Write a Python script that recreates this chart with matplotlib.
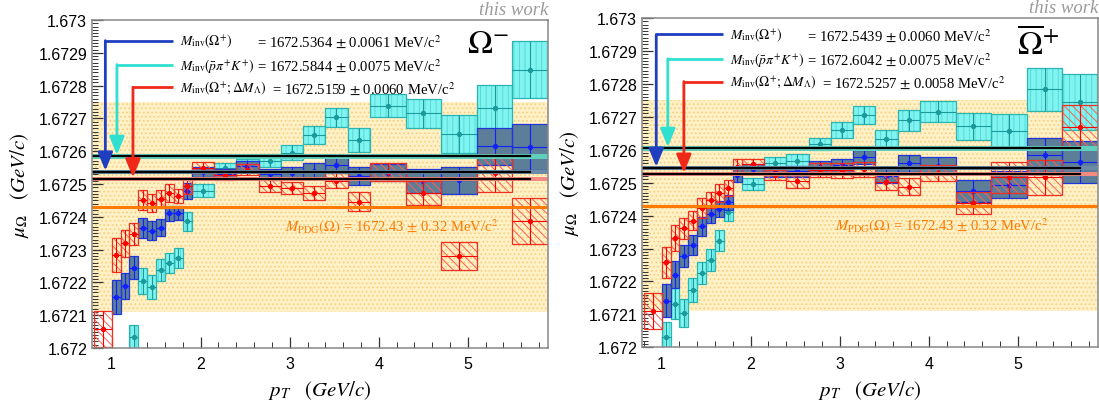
import numpy as np
import matplotlib
matplotlib.use('Agg')
import matplotlib.pyplot as plt
from matplotlib.patches import Rectangle
from matplotlib.ticker import MultipleLocator, FuncFormatter

plt.rcParams['font.family'] = ['Liberation Serif', 'DejaVu Serif']
plt.rcParams['mathtext.fontset'] = 'stix'
plt.rcParams['hatch.linewidth'] = 0.7

nan = np.nan

# pT bin edges (GeV/c)
pt_edges = [0.8, 1.0, 1.1, 1.2, 1.3, 1.4, 1.5, 1.6, 1.7, 1.8, 1.9, 2.15, 2.4,
            2.65, 2.9, 3.15, 3.4, 3.65, 3.9, 4.3, 4.7, 5.1, 5.5, 5.9]

# Omega- panel, masses in MeV/c^2
om_red = [1672.058, 1672.284, 1672.319, 1672.347, 1672.452, 1672.442, 1672.454, 1672.472,
          1672.464, 1672.493, 1672.550, 1672.528, 1672.544, 1672.493, 1672.488, 1672.472,
          1672.510, 1672.446, 1672.536, 1672.472, 1672.280, 1672.534, 1672.388]
om_red_err = [0.054, 0.052, 0.041, 0.034, 0.031, 0.028, 0.028, 0.027, 0.022, 0.023, 0.016,
              0.015, 0.018, 0.018, 0.019, 0.022, 0.023, 0.029, 0.027, 0.036, 0.043, 0.057, 0.070]
om_blue = [nan, 1672.155, 1672.190, 1672.244, 1672.365, 1672.358, 1672.367, 1672.411,
           1672.411, 1672.478, 1672.537, 1672.530, 1672.555, 1672.530, 1672.534, 1672.541,
           1672.559, 1672.525, 1672.535, 1672.510, 1672.511, 1672.615, 1672.613]
om_blue_err = [nan, 0.051, 0.040, 0.035, 0.030, 0.028, 0.026, 0.023, 0.022, 0.024, 0.015,
               0.015, 0.016, 0.016, 0.017, 0.024, 0.024, 0.028, 0.027, 0.036, 0.042, 0.057, 0.071]
om_cyan = [nan, nan, nan, 1672.033, 1672.205, 1672.187, 1672.238, 1672.259, 1672.274,
           1672.386, 1672.480, 1672.549, 1672.560, 1672.571, 1672.595, 1672.649, 1672.703,
           1672.635, 1672.739, 1672.715, 1672.652, 1672.731, 1672.849]
om_cyan_err = [nan, nan, nan, 0.038, 0.039, 0.037, 0.033, 0.030, 0.031, 0.030, 0.019, 0.015,
               0.015, 0.020, 0.023, 0.028, 0.030, 0.037, 0.034, 0.044, 0.057, 0.070, 0.088]
om_means = [1672.5364, 1672.5844, 1672.5159]
om_mean_errs = [0.0061, 0.0075, 0.0060]

# anti-Omega+ panel
ob_red = [1672.111, 1672.258, 1672.331, 1672.362, 1672.385, 1672.423, 1672.448, 1672.468,
          1672.484, 1672.549, 1672.557, 1672.522, 1672.504, 1672.539, 1672.537, 1672.540,
          1672.502, 1672.488, 1672.530, 1672.439, 1672.517, 1672.516, 1672.669]
ob_red_err = [0.055, 0.047, 0.039, 0.032, 0.030, 0.029, 0.025, 0.027, 0.025, 0.024, 0.016,
              0.015, 0.020, 0.022, 0.022, 0.023, 0.025, 0.027, 0.025, 0.033, 0.047, 0.052, 0.066]
ob_blue = [nan, 1672.142, 1672.221, 1672.277, 1672.310, 1672.367, 1672.404, 1672.420,
           1672.440, 1672.522, 1672.541, 1672.531, 1672.535, 1672.547, 1672.553, 1672.578,
           1672.520, 1672.559, 1672.552, 1672.474, 1672.494, 1672.584, 1672.563]
ob_blue_err = [nan, 0.049, 0.040, 0.034, 0.030, 0.029, 0.026, 0.025, 0.024, 0.020, 0.016,
               0.015, 0.017, 0.018, 0.020, 0.022, 0.022, 0.026, 0.025, 0.033, 0.042, 0.052, 0.063]
ob_cyan = [nan, 1672.030, 1672.132, 1672.104, 1672.174, 1672.225, 1672.265, 1672.324,
           1672.412, nan, 1672.497, 1672.561, 1672.567, 1672.618, 1672.661, 1672.705,
           1672.633, 1672.689, 1672.716, 1672.671, 1672.658, 1672.783, 1672.745]
ob_cyan_err = [nan, 0.046, 0.047, 0.043, 0.037, 0.033, 0.033, 0.031, 0.028, nan, 0.018,
               0.018, 0.020, 0.019, 0.024, 0.027, 0.028, 0.033, 0.032, 0.041, 0.050, 0.066, 0.084]
ob_means = [1672.5439, 1672.6042, 1672.5257]
ob_mean_errs = [0.0060, 0.0075, 0.0058]

pdg_mass = 1672.43
pdg_err = 0.32

labels = [r'$M_{\mathrm{inv}}(\Omega^{+})$',
          r'$M_{\mathrm{inv}}(\bar{p}\pi^{+}K^{+})$',
          r'$M_{\mathrm{inv}}(\Omega^{+};\Delta M_{\Lambda})$']

# legend rows (MeV) and arrow corner positions (pT)
om_row_y = [1672.937, 1672.864, 1672.795]
ob_row_y = [1672.950, 1672.876, 1672.807]
om_arrow_x = [0.93, 1.06, 1.24]
ob_arrow_x = [0.94, 1.07, 1.25]

RED, BLUE, CYAN = '#f02818', '#1f3fc0', '#2fe0d0'
ORANGE = '#ff7a00'


def draw_boxes(ax, mu, err, face, hatch, hatch_col, edge, mcol, z):
    lo = np.array(pt_edges[:-1])
    hi = np.array(pt_edges[1:])
    mu = np.array(mu) / 1000.
    err = np.array(err) / 1000.
    for x0, x1, m, e in zip(lo, hi, mu, err):
        if np.isnan(m):
            continue
        ax.add_patch(Rectangle((x0, m - e), x1 - x0, 2 * e, facecolor=face,
                               edgecolor=hatch_col, hatch=hatch, lw=0, zorder=z))
        ax.add_patch(Rectangle((x0, m - e), x1 - x0, 2 * e, fill=False,
                               edgecolor=edge, lw=0.9, zorder=z + 0.1))
    ok = ~np.isnan(mu)
    ax.errorbar(((lo + hi) / 2)[ok], mu[ok], xerr=((hi - lo) / 2)[ok], yerr=err[ok],
                fmt='o', ms=2.8, color=mcol, elinewidth=0.8, capsize=0, zorder=z + 0.2)


def draw_panel(ax, red, red_err, blue, blue_err, cyan, cyan_err, means, mean_errs,
               row_y, arrow_x, title):
    ax.set_xlim(0.78, 5.9)
    ax.set_ylim(1.672, 1.673)

    # PDG band
    ax.axhspan((pdg_mass - pdg_err) / 1000., (pdg_mass + pdg_err) / 1000.,
               facecolor='#fff0c6', edgecolor='#f6cf7e', hatch='....', lw=0, zorder=0.5)

    draw_boxes(ax, cyan, cyan_err, '#80f4f0', '|||', '#5ad8d8', '#2ab5b0', '#1a9a9a', 2)
    draw_boxes(ax, blue, blue_err, '#5c7e99', None, '#5c7e99', '#2036d8', '#1020ff', 3)
    draw_boxes(ax, red, red_err, 'none', '\\\\\\\\', '#ff6050', '#f03020', '#ff0000', 4)

    # averages
    for m, e, c in zip(means, mean_errs, ['#6a8aa8', '#5fd0bc', '#f58a80']):
        ax.axhspan((m - e) / 1000., (m + e) / 1000., color=c, lw=0, zorder=5)
        ax.plot([0.78, 5.7], [m / 1000., m / 1000.], color='black', lw=1.6, zorder=5.5)

    ax.axhline(pdg_mass / 1000., color=ORANGE, lw=2.2, zorder=6)
    ax.text(2.95, (pdg_mass - 0.058) / 1000.,
            r'$M_{\mathrm{PDG}}(\Omega)$ = %.2f $\pm$ %.2f MeV/c$^2$' % (pdg_mass, pdg_err),
            color=ORANGE, fontsize=10.6, va='center', zorder=7)

    # legend rows with arrows
    for i, c in enumerate([BLUE, CYAN, RED]):
        y = row_y[i] / 1000.
        tip = (means[i] + 0.004) / 1000.
        ax.plot([1.685, arrow_x[i]], [y, y], color=c, lw=2.0, zorder=8,
                solid_capstyle='butt')
        ax.annotate('', xy=(arrow_x[i], tip), xytext=(arrow_x[i], y),
                    arrowprops=dict(arrowstyle='-|>,head_length=1.1,head_width=0.45',
                                    color=c, lw=2.0, shrinkA=0, shrinkB=0), zorder=8)
        ax.text(1.77, y, labels[i], fontsize=9.8, va='center', zorder=8)
        vx = 2.63 if i < 2 else 2.8
        ax.text(vx, y, '= %.4f $\\pm$ %.4f MeV/c$^2$' % (means[i], mean_errs[i]),
                fontsize=10.6, va='center', zorder=8)

    ax.text(0.915, 0.975, title, transform=ax.transAxes, fontsize=24,
            ha='right', va='top', zorder=9)
    ax.text(1.0, 1.006, 'this work', transform=ax.transAxes, fontsize=13.5,
            style='italic', color='#9a9a9a', ha='right', va='bottom')

    ax.xaxis.set_major_locator(MultipleLocator(1))
    ax.xaxis.set_minor_locator(MultipleLocator(0.2))
    ax.yaxis.set_major_locator(MultipleLocator(1e-4))
    ax.yaxis.set_minor_locator(MultipleLocator(1e-5))
    ax.yaxis.set_major_formatter(FuncFormatter(lambda v, _: ('%.4f' % v).rstrip('0')))
    ax.tick_params(which='both', direction='in', top=False, right=False,
                   labelsize=11.5, labelfontfamily='Liberation Sans', color='#333333')
    ax.tick_params(which='major', length=8, width=0.9)
    ax.tick_params(which='minor', length=4, width=0.7)
    ax.tick_params(axis='x', pad=6)
    for s in ax.spines.values():
        s.set_color('#888888')
        s.set_linewidth(1.1)
        s.set_zorder(10)

    ax.set_ylabel(r'$\mu_{\Omega}\ \ \ (GeV/c)$', fontsize=15, labelpad=5)
    ax.set_xlabel(r'$p_{T}\ \ \ (GeV/c)$', fontsize=15, labelpad=5)


fig = plt.figure(figsize=(10.99, 4.10), dpi=100)
ax1 = fig.add_axes([92 / 1099, 61 / 410, 456 / 1099, 328 / 410])
ax2 = fig.add_axes([642 / 1099, 61.7 / 410, 456 / 1099, 329.3 / 410])

draw_panel(ax1, om_red, om_red_err, om_blue, om_blue_err, om_cyan, om_cyan_err,
           om_means, om_mean_errs, om_row_y, om_arrow_x, r'$\Omega^{-}$')
draw_panel(ax2, ob_red, ob_red_err, ob_blue, ob_blue_err, ob_cyan, ob_cyan_err,
           ob_means, ob_mean_errs, ob_row_y, ob_arrow_x, r'$\overline{\Omega}^{+}$')

fig.savefig('out.png', dpi=100)
